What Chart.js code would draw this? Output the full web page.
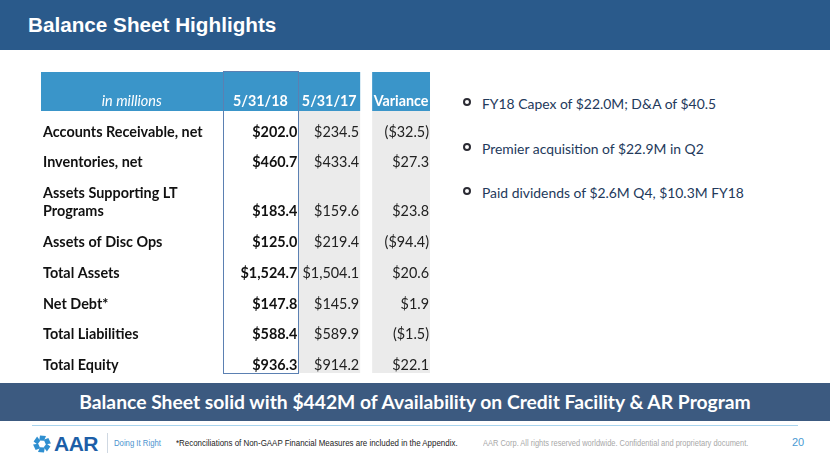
<!DOCTYPE html>
<html>
<head>
<meta charset="utf-8">
<script src="https://cdn.jsdelivr.net/npm/chart.js@4.4.1/dist/chart.umd.min.js"></script>
<style>
  html, body { margin: 0; padding: 0; background: #fff; }
  #slide { position: relative; width: 830px; height: 467px; overflow: hidden; font-family: Lato, "Open Sans", sans-serif; }
  #titlebar { position: absolute; left: 0; top: 0; width: 830px; height: 50px; background: #2a5a8b; }
  #titlebar span { position: absolute; left: 28px; top: 13px; color: #fff; font: bold 20.7px "Liberation Sans", Arial, sans-serif; }
  #tableCanvas { position: absolute; left: 30px; top: 62px; }
  .bullet { position: absolute; left: 463px; color: #23395b; font-size: 13.9px; }
  .bullet i { position: absolute; left: 0; top: 50%; width: 4px; height: 4px; margin-top: -5px; border: 2.7px solid #2b2b33; border-radius: 50%; }
  .bullet span { position: absolute; left: 19px; top: 0; transform: translateY(-50%); white-space: nowrap; }
  #banner { position: absolute; left: 0; top: 383px; width: 830px; height: 38px; background: #3c5a80; color: #fff; font-weight: bold; font-size: 19.3px; text-align: center; line-height: 38px; }
  #rule { position: absolute; left: 32px; top: 425px; width: 766px; height: 1px; background: #a8d4ee; }
  #logoTxt { position: absolute; left: 54px; top: 432px; font: bold 21px "Liberation Sans", Arial, sans-serif; color: #1c5ea7; letter-spacing: -0.5px; }
  #divider { position: absolute; left: 107px; top: 433px; width: 1px; height: 20px; background: #cfd8e2; }
  .small { position: absolute; transform-origin: 0 50%; white-space: nowrap; font-family: "Liberation Sans", sans-serif; }
  #tag { left: 114px; top: 438px; font-size: 9px; color: #4d94cf; transform: scaleX(0.86); }
  #note { left: 176px; top: 437px; font-size: 9.5px; color: #222; transform: scaleX(0.835); }
  #copy { left: 483px; top: 438px; font-size: 9px; color: #a8a8a8; transform: scaleX(0.83); }
  #page { position: absolute; left: 792px; top: 436px; font: 11px "Liberation Sans", sans-serif; color: #4a9ad3; }
</style>
</head>
<body>
<div id="slide">
  <div id="titlebar"><span>Balance Sheet Highlights</span></div>

  <canvas id="tableCanvas" width="415" height="320"></canvas>

  <div class="bullet" style="top:103px"><i></i><span>FY18 Capex of $22.0M; D&amp;A of $40.5</span></div>
  <div class="bullet" style="top:148px"><i></i><span>Premier acquisition of $22.9M in Q2</span></div>
  <div class="bullet" style="top:192px"><i></i><span>Paid dividends of $2.6M Q4, $10.3M FY18</span></div>

  <div id="banner">Balance Sheet solid with $442M of Availability on Credit Facility &amp; AR Program</div>
  <div id="rule"></div>

  <svg style="position:absolute;left:33px;top:435px" width="18" height="18" viewBox="-9 -9 18 18">
    <g fill="#2f8fd0">
      <path d="M-2 -8.5 L4 -8 L2 -3.2 L-2.8 -3.6 Z"/>
      <path d="M-2 -8.5 L4 -8 L2 -3.2 L-2.8 -3.6 Z" transform="rotate(60)"/>
      <path d="M-2 -8.5 L4 -8 L2 -3.2 L-2.8 -3.6 Z" transform="rotate(120)"/>
      <path d="M-2 -8.5 L4 -8 L2 -3.2 L-2.8 -3.6 Z" transform="rotate(180)"/>
      <path d="M-2 -8.5 L4 -8 L2 -3.2 L-2.8 -3.6 Z" transform="rotate(240)"/>
      <path d="M-2 -8.5 L4 -8 L2 -3.2 L-2.8 -3.6 Z" transform="rotate(300)"/>
    </g>
  </svg>
  <div id="logoTxt">AAR</div>
  <div id="divider"></div>
  <div id="tag" class="small">Doing It Right</div>
  <div id="note" class="small">*Reconciliations of Non-GAAP Financial Measures are included in the Appendix.</div>
  <div id="copy" class="small">AAR Corp. All rights reserved worldwide. Confidential and proprietary document.</div>
  <div id="page">20</div>
</div>

<script>
// Dữ liệu bảng (triệu USD)
const columns = ['in millions', '5/31/18', '5/31/17', 'Variance'];
const rowLabels = [
    'Accounts Receivable, net',
    'Inventories, net',
    ['Assets Supporting LT', 'Programs'],
    'Assets of Disc Ops',
    'Total Assets',
    'Net Debt*',
    'Total Liabilities',
    'Total Equity'
];
const fy18 = [202.0, 460.7, 183.4, 125.0, 1524.7, 147.8, 588.4, 936.3];
const fy17 = [234.5, 433.4, 159.6, 219.4, 1504.1, 145.9, 589.9, 914.2];
const variance = [-32.5, 27.3, 23.8, -94.4, 20.6, 1.9, -1.5, 22.1];

// bố cục cột (đơn vị trục x), tách khỏi dữ liệu
const colEdges = [[0, 182], [182, 258], [258, 320], [332, 390]];
const extraLine = 0.58; // chiều cao thêm cho dòng 2 của nhãn

// tâm mỗi dòng theo đơn vị trục y
const rowCenters = [];
let acc = 0;
rowLabels.forEach(lbl => {
    const h = 1 + (Array.isArray(lbl) ? (lbl.length - 1) * extraLine : 0);
    rowCenters.push(acc + h / 2);
    acc += h;
});

function fmt(v) {
    const s = Math.abs(v).toLocaleString('en-US', { minimumFractionDigits: 1, maximumFractionDigits: 1 });
    return v < 0 ? '($' + s + ')' : '$' + s;
}

const valueCols = [fy18, fy17, variance];
const datasets = valueCols.map((vals, c) => ({
    label: columns[c + 1],
    data: vals.map((v, i) => ({ x: colEdges[c + 1][1], y: rowCenters[i] })),
    pointRadius: 0,
    showLine: false
}));

const tablePlugin = {
    id: 'tablePlugin',
    beforeDatasetsDraw(chart) {
        const { ctx, scales: { x, y } } = chart;
        const hTop = y.getPixelForValue(y.min), hBot = y.getPixelForValue(-0.18);
        const bottom = y.getPixelForValue(y.max);
        ctx.save();
        // dải tiêu đề
        ctx.fillStyle = '#3a95c9';
        ctx.fillRect(x.getPixelForValue(colEdges[0][0]), hTop, x.getPixelForValue(colEdges[2][1]) - x.getPixelForValue(colEdges[0][0]), hBot - hTop);
        ctx.fillRect(x.getPixelForValue(colEdges[3][0]), hTop, x.getPixelForValue(colEdges[3][1]) - x.getPixelForValue(colEdges[3][0]), hBot - hTop);
        // cột xám
        ctx.fillStyle = '#ebebeb';
        [2, 3].forEach(c => {
            const l = x.getPixelForValue(colEdges[c][0]), r = x.getPixelForValue(colEdges[c][1]);
            ctx.fillRect(l, hBot, r - l, bottom - hBot);
        });
        // khung cột 5/31/18
        const l = x.getPixelForValue(colEdges[1][0]), r = x.getPixelForValue(colEdges[1][1]);
        ctx.strokeStyle = '#5b80b2';
        ctx.lineWidth = 1;
        ctx.strokeRect(Math.round(l) + 0.5, Math.round(hTop) - 0.5, Math.round(r - l) - 1, Math.round(bottom - hTop) + 1);
        ctx.restore();
    },
    afterDatasetsDraw(chart) {
        const { ctx, scales: { x, y } } = chart;
        ctx.save();
        ctx.textBaseline = 'middle';
        // tiêu đề cột
        const hy = y.getPixelForValue(-0.5);
        columns.forEach((c, i) => {
            const cx = (x.getPixelForValue(colEdges[i][0]) + x.getPixelForValue(colEdges[i][1])) / 2;
            ctx.fillStyle = '#fff';
            ctx.textAlign = 'center';
            ctx.font = i === 0 ? 'italic 14.5px Lato' : 'bold 14.3px Lato';
            ctx.fillText(c, cx, hy);
        });
        // nhãn dòng
        ctx.fillStyle = '#111';
        ctx.textAlign = 'left';
        ctx.font = 'bold 14.4px Lato';
        rowLabels.forEach((lbl, i) => {
            const py = y.getPixelForValue(rowCenters[i]);
            const lines = Array.isArray(lbl) ? lbl : [lbl];
            lines.forEach((t, k) => {
                ctx.fillText(t, x.getPixelForValue(2), py + (k - (lines.length - 1) / 2) * 18.5);
            });
        });
        // giá trị
        ctx.textAlign = 'right';
        chart.data.datasets.forEach((ds, c) => {
            const meta = chart.getDatasetMeta(c);
            ctx.font = c === 0 ? 'bold 14.4px Lato' : '14.4px Lato';
            ctx.fillStyle = c === 0 ? '#111' : '#222';
            meta.data.forEach((pt, i) => {
                ctx.fillText(fmt(valueCols[c][i]), pt.x - 1, Array.isArray(rowLabels[i]) ? pt.y + 9 : pt.y);
            });
        });
        ctx.restore();
    }
};

new Chart(document.getElementById('tableCanvas'), {
    type: 'scatter',
    data: { datasets: datasets },
    options: {
        responsive: false,
        animation: false,
        events: [],
        layout: { padding: { left: 11, top: 10, right: 14, bottom: 9 } },
        plugins: { legend: { display: false }, tooltip: { enabled: false } },
        scales: {
            x: { type: 'linear', display: false, min: 0, max: 391 },
            y: { type: 'linear', display: false, reverse: true, min: -1.445, max: 8.32 }
        }
    },
    plugins: [tablePlugin]
});
</script>
</body>
</html>
